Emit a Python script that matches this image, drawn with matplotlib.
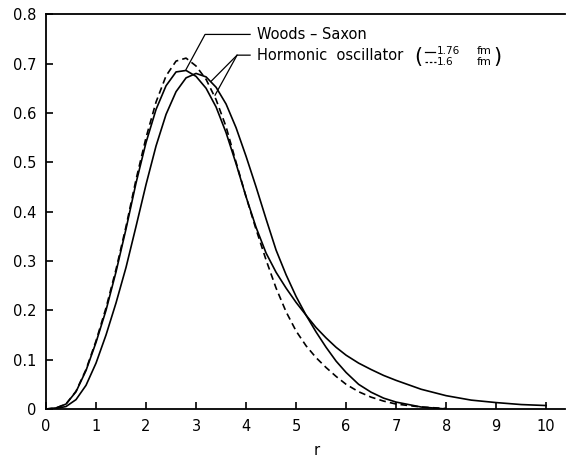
import numpy as np
import matplotlib.pyplot as plt
from matplotlib.lines import Line2D

# radius values
r = [0, 0.2, 0.4, 0.6, 0.8, 1.0, 1.2, 1.4, 1.6, 1.8, 2.0, 2.2, 2.4, 2.6, 2.8,
     3.0, 3.2, 3.4, 3.6, 3.8, 4.0, 4.2, 4.4, 4.6, 4.8, 5.0, 5.2, 5.4, 5.6,
     5.8, 6.0, 6.25, 6.5, 6.75, 7.0, 7.5, 8.0, 8.5, 9.0, 9.5, 10.0]

woods_saxon = [0, 0.002, 0.01, 0.035, 0.078, 0.135, 0.2, 0.278, 0.365, 0.458,
               0.54, 0.607, 0.655, 0.683, 0.686, 0.674, 0.65, 0.612, 0.56,
               0.497, 0.43, 0.368, 0.316, 0.277, 0.245, 0.216, 0.19, 0.165,
               0.144, 0.125, 0.109, 0.093, 0.08, 0.068, 0.058, 0.04, 0.027,
               0.018, 0.013, 0.009, 0.007]

ho_176 = [0, 0.001, 0.005, 0.019, 0.048, 0.093, 0.15, 0.215, 0.287, 0.37,
          0.455, 0.533, 0.597, 0.643, 0.671, 0.68, 0.673, 0.652, 0.618, 0.57,
          0.512, 0.45, 0.385, 0.322, 0.272, 0.228, 0.19, 0.156, 0.125, 0.097,
          0.074, 0.05, 0.034, 0.022, 0.014, 0.004, 0.0]

ho_16 = [0, 0.002, 0.01, 0.036, 0.08, 0.138, 0.205, 0.283, 0.37, 0.465,
         0.55, 0.622, 0.675, 0.705, 0.711, 0.695, 0.668, 0.627, 0.572, 0.5,
         0.43, 0.364, 0.302, 0.245, 0.197, 0.158, 0.128, 0.104, 0.084, 0.066,
         0.05, 0.035, 0.024, 0.016, 0.01, 0.004, 0.001]

xticks = list(range(0, 11))
yticks = [0, 0.1, 0.2, 0.3, 0.4, 0.5, 0.6, 0.7, 0.8]
ylabels = ["0", "0.1", "0.2", "0.3", "0.4", "0.5", "0.6", "0.7", "0.8"]

fig = plt.figure(figsize=(5.68, 4.58), dpi=100)
ax = fig.add_axes([0.081, 0.107, 0.914, 0.862])

lw = 1.2
ax.plot(r[:len(woods_saxon)], woods_saxon, color="black", lw=lw)
ax.plot(r[:len(ho_176)], ho_176, color="black", lw=lw)
ax.plot(r[:len(ho_16)], ho_16, color="black", lw=lw, ls=(0, (4, 2.5)))

ax.set_xlim(0, 10.38)
ax.set_ylim(0, 0.8)
ax.set_xticks(xticks)
ax.set_yticks(yticks)
ax.set_yticklabels(ylabels)
ax.tick_params(direction="in", length=5, width=1.2, labelsize=10.5)
ax.tick_params(axis="x", pad=7)
ax.tick_params(axis="y", pad=7)
ax.spines["right"].set_visible(False)
for s in ["left", "top", "bottom"]:
    ax.spines[s].set_linewidth(1.3)

ax.text(5.42, -0.085, "r", ha="center", va="center", fontsize=10.5)

# labels with leader lines
ax.text(4.22, 0.759, "Woods \u2013 Saxon", ha="left", va="center", fontsize=10.5)
ax.plot([4.08, 3.18, 2.8], [0.759, 0.759, 0.688], color="black", lw=0.9)

ax.text(4.22, 0.717, "Hormonic  oscillator", ha="left", va="center", fontsize=10.5)
ax.plot([4.08, 3.82, 3.3], [0.717, 0.717, 0.664], color="black", lw=0.9)
ax.plot([3.82, 3.38], [0.717, 0.636], color="black", lw=0.9)

# small key in parentheses
ax.text(7.44, 0.713, "(", ha="center", va="center", fontsize=15)
ax.text(9.02, 0.713, ")", ha="center", va="center", fontsize=15)
ax.add_line(Line2D([7.57, 7.78], [0.724, 0.724], color="black", lw=0.9))
ax.add_line(Line2D([7.57, 7.79], [0.704, 0.704], color="black", lw=0.9, ls=(0, (2, 1.5))))
ax.text(7.82, 0.726, "1.76", ha="left", va="center", fontsize=7.5)
ax.text(7.82, 0.703, "1.6", ha="left", va="center", fontsize=7.5)
ax.text(8.62, 0.725, "fm", ha="left", va="center", fontsize=8)
ax.text(8.62, 0.703, "fm", ha="left", va="center", fontsize=8)

fig.savefig("out.png", dpi=100)
